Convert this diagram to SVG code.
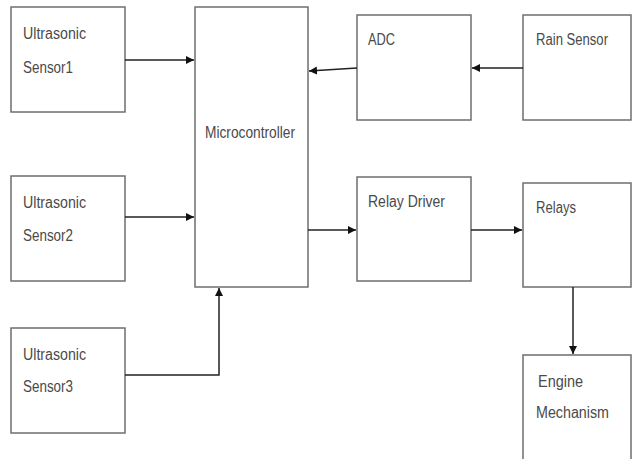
<svg xmlns="http://www.w3.org/2000/svg" width="634" height="459" viewBox="0 0 634 459">
<style>
.box{fill:#fff;stroke:#6e6e6e;stroke-width:1.5}
.t{font-family:"Liberation Sans",Arial,sans-serif;font-size:16px;fill:#4a4a4a}
.c{stroke:#222;stroke-width:1.5;fill:none}
</style>
<defs>
<marker id="ah" markerWidth="10" markerHeight="10" refX="8" refY="4" orient="auto" markerUnits="userSpaceOnUse">
<path d="M0,0 L8,4 L0,8 Z" fill="#111"/>
</marker>
</defs>
<rect width="634" height="459" fill="#fff"/>
<g id="us1"><rect class="box" x="11" y="7" width="114" height="105"/><text class="t" x="23" y="39" textLength="63" lengthAdjust="spacingAndGlyphs">Ultrasonic</text><text class="t" x="23" y="73" textLength="50" lengthAdjust="spacingAndGlyphs">Sensor1</text></g>
<g id="micro"><rect class="box" x="195" y="7" width="113" height="280"/><text class="t" x="205" y="138" textLength="90" lengthAdjust="spacingAndGlyphs">Microcontroller</text></g>
<g id="adc"><rect class="box" x="357" y="15" width="114" height="105"/><text class="t" x="368" y="45" textLength="27" lengthAdjust="spacingAndGlyphs">ADC</text></g>
<g id="rain"><rect class="box" x="523" y="15" width="108" height="105"/><text class="t" x="536" y="45" textLength="72" lengthAdjust="spacingAndGlyphs">Rain Sensor</text></g>
<g id="us2"><rect class="box" x="11" y="176" width="114" height="105"/><text class="t" x="23" y="208" textLength="63" lengthAdjust="spacingAndGlyphs">Ultrasonic</text><text class="t" x="23" y="241" textLength="50" lengthAdjust="spacingAndGlyphs">Sensor2</text></g>
<g id="relaydriver"><rect class="box" x="357" y="177" width="114" height="104"/><text class="t" x="368" y="207" textLength="77" lengthAdjust="spacingAndGlyphs">Relay Driver</text></g>
<g id="relays"><rect class="box" x="523" y="183" width="108" height="104"/><text class="t" x="536" y="213" textLength="40" lengthAdjust="spacingAndGlyphs">Relays</text></g>
<g id="us3"><rect class="box" x="11" y="328" width="114" height="105"/><text class="t" x="23" y="360" textLength="63" lengthAdjust="spacingAndGlyphs">Ultrasonic</text><text class="t" x="23" y="392" textLength="50" lengthAdjust="spacingAndGlyphs">Sensor3</text></g>
<g id="engine"><rect class="box" x="523" y="355" width="108" height="110"/><text class="t" x="538" y="387" textLength="45" lengthAdjust="spacingAndGlyphs">Engine</text><text class="t" x="536" y="418" textLength="73" lengthAdjust="spacingAndGlyphs">Mechanism</text></g>
<g id="connectors">
<line class="c" x1="125" y1="60" x2="194" y2="60" marker-end="url(#ah)"/>
<line class="c" x1="357" y1="68" x2="309" y2="71" marker-end="url(#ah)"/>
<line class="c" x1="523" y1="68" x2="472" y2="68" marker-end="url(#ah)"/>
<line class="c" x1="125" y1="217" x2="194" y2="217" marker-end="url(#ah)"/>
<line class="c" x1="308" y1="230" x2="356" y2="230" marker-end="url(#ah)"/>
<line class="c" x1="471" y1="230" x2="522" y2="230" marker-end="url(#ah)"/>
<line class="c" x1="573" y1="287" x2="573" y2="354" marker-end="url(#ah)"/>
<polyline class="c" points="125,375 219,375 219,288" marker-end="url(#ah)"/>
</g>
</svg>
